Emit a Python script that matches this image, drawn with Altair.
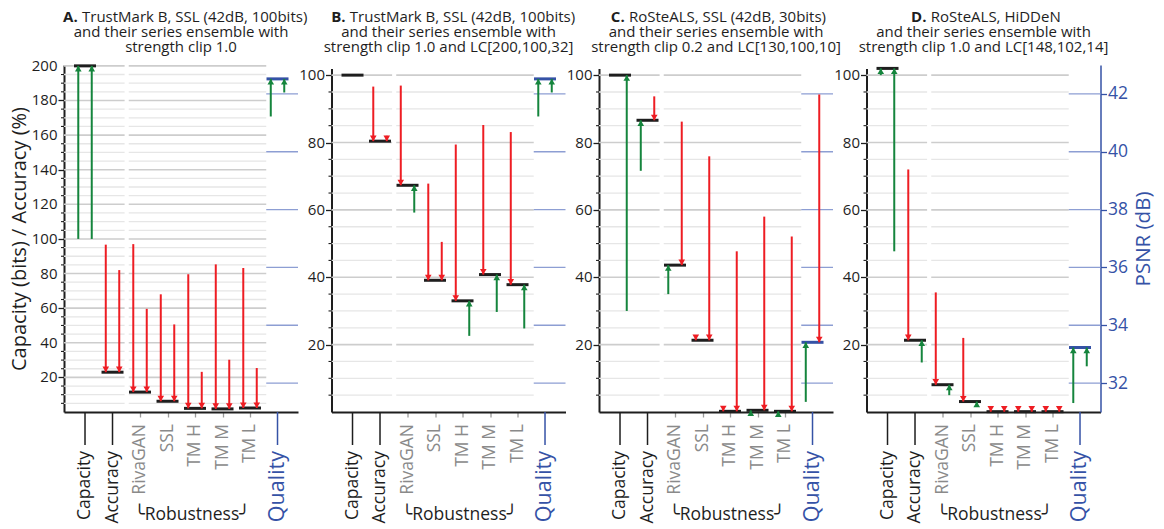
import altair as alt
import pandas as pd

# ------------------------------------------------------------------ data
CATS = ["Capacity", "Accuracy", "RivaGAN", "SSL", "TM H", "TM M", "TM L", "Quality"]

# values of model 1 (left arrow), model 2 (right arrow) and the ensemble (bar)
# last entry of every list is the PSNR (dB) of the "Quality" column
A_M1 = [100, 96.7, 97.0, 68.0, 79.6, 85.3, 83.2, 41.22]
A_M2 = [100, 82.0, 59.6, 50.6, 23.2, 30.2, 25.4, 42.05]
A_ENS = [200, 23.0, 11.5, 6.2, 2.1, 1.8, 2.3, 42.52]

B_M1 = [100, 96.6, 96.9, 67.8, 79.4, 85.2, 83.1, 41.22]
B_M2 = [100, 82.0, 59.2, 50.5, 22.6, 29.7, 24.8, 42.05]
B_ENS = [100, 80.4, 67.3, 39.1, 33.0, 40.8, 37.8, 42.52]

C_M1 = [100, 71.6, 35.0, 22.8, 1.0, 0.0, -0.6, 31.35]
C_M2 = [30.0, 93.7, 86.2, 75.9, 47.7, 58.0, 52.1, 41.98]
C_ENS = [100, 86.6, 43.6, 21.3, 0.2, 0.5, 0.2, 33.41]

D_M1 = [100, 72.0, 35.5, 22.0, 1.0, 1.0, 1.0, 31.31]
D_M2 = [47.7, 14.7, 5.0, 1.6, 1.0, 1.0, 1.0, 32.58]
D_ENS = [102, 21.3, 8.1, 3.1, 0.1, 0.1, 0.1, 33.23]

PANEL_M1 = [A_M1, B_M1, C_M1, D_M1]
PANEL_M2 = [A_M2, B_M2, C_M2, D_M2]
PANEL_ENS = [A_ENS, B_ENS, C_ENS, D_ENS]

TITLE_TAGS = ["A.", "B.", "C.", "D."]
TITLE_LINE1 = [
    "TrustMark B, SSL (42dB, 100bits)",
    "TrustMark B, SSL (42dB, 100bits)",
    "RoSteALS, SSL (42dB, 30bits)",
    "RoSteALS, HiDDeN",
]
TITLE_LINE2 = ["and their series ensemble with"] * 4
TITLE_LINE3 = [
    "strength clip 1.0",
    "strength clip 1.0 and LC[200,100,32]",
    "strength clip 0.2 and LC[130,100,10]",
    "strength clip 1.0 and LC[148,102,14]",
]

Y_MAX = [200.5, 102, 102, 102]
PSNR_DOMAIN = [31, 43]
PSNR_TICKS = [32, 34, 36, 38, 40, 42]
GRID_STEP = 5
MAJOR_STEP = 20
Y_TITLE = "Capacity (bits) / Accuracy (%)"
PSNR_TITLE = "PSNR (dB)"
ROBUST_TITLE = "╰Robustness╯"

# ------------------------------------------------------------------ style / layout
W, H = 234, 347
FONT = "Open Sans"
RED = "#ee1d23"
GREEN = "#15853d"
BLACK = "#1e1e1e"
BLUE = "#3552a6"
BLUE_GRID = "#8d9ed3"
GRAY_TXT = "#8a8a8a"
GRID_MAJOR = "#cdcdcd"
GRID_MINOR = "#e6e6e6"

X_DOMAIN = [-0.764, 7.745]
BAR_HALF = 0.4
ARROW_OFF = 0.245
SEG1_END = 1.44
SEG2_START = 1.59
SEG2_END = 6.59
Y_TOP_GAP = [0, 3.4, 3.4, 3.4]
TAG_RIGHT = [13.7, 14.0, 25.7, 60.0]
TITLE_Y = [-43, -28, -13.5]
PATH_DOWN = "M-1,-1.7L1,-1.7L0,0Z"
PATH_UP = "M-1,1.7L1,1.7L0,0Z"

QI = len(CATS) - 1  # index of the Quality column


def panel(p):
    m1, m2, ens = PANEL_M1[p], PANEL_M2[p], PANEL_ENS[p]
    ymax = Y_MAX[p]
    xsc = alt.Scale(domain=X_DOMAIN, nice=False, zero=False)
    ysc = alt.Scale(domain=[0, ymax], range=[H, Y_TOP_GAP[p]], nice=False, zero=False)
    qsc = alt.Scale(domain=PSNR_DOMAIN, range=[H, 0], nice=False, zero=False)
    dir_color = alt.Color("dir:N", scale=alt.Scale(domain=["down", "up"], range=[RED, GREEN]), legend=None)
    dir_shape = alt.Shape("dir:N", scale=alt.Scale(domain=["down", "up"], range=[PATH_DOWN, PATH_UP]), legend=None)

    # --- tables
    bars = pd.DataFrame({"i": list(range(len(CATS))), "e": ens})
    bars["xs"] = bars["i"] - BAR_HALF
    bars["xe"] = bars["i"] + BAR_HALF

    rows = []
    for i in range(len(CATS)):
        for side, v in ((-1, m1[i]), (1, m2[i])):
            if abs(v - ens[i]) < 0.05:
                continue
            rows.append({"i": i, "x": i + side * ARROW_OFF, "v": v, "e": ens[i],
                         "dir": "down" if v > ens[i] else "up"})
    arr = pd.DataFrame(rows)

    grid = []
    g = GRID_STEP
    while g <= ymax:
        for xs, xe in ((X_DOMAIN[0], SEG1_END), (SEG2_START, SEG2_END)):
            grid.append({"g": g, "xs": xs, "xe": xe, "major": g % MAJOR_STEP == 0})
        g += GRID_STEP
    grid = pd.DataFrame(grid)
    minor_ticks = pd.DataFrame({"g": [v for v in range(GRID_STEP, int(ymax) + 1, GRID_STEP)
                                      if v % MAJOR_STEP != 0]})
    major_vals = list(range(MAJOR_STEP, int(ymax) + 1, MAJOR_STEP))
    ylabels = pd.DataFrame({"g": major_vals, "t": [str(v) for v in major_vals]})

    qgrid = pd.DataFrame({"g": PSNR_TICKS, "xs": SEG2_END, "xe": X_DOMAIN[1]})
    labels = pd.DataFrame({"i": list(range(len(CATS))), "lab": CATS})

    yaxis = alt.Axis(
        values=major_vals, labels=False,
        tickSize=6, tickColor=BLACK, tickWidth=1.3, domainColor=BLACK, domainWidth=2,
        grid=False,
        titleFont=FONT, titleFontSize=20, titleFontWeight="normal", titleColor=BLACK,
        titlePadding=28,
    )
    xaxis = alt.Axis(values=[2, 3, 4, 5, 6], labels=False, tickSize=5, tickColor="#9a9a9a",
                     tickWidth=1.3, domainColor=BLACK, domainWidth=2, grid=False)

    XS = alt.X("xs:Q", scale=xsc)
    XP = alt.X("x:Q", scale=xsc)
    XI = alt.X("i:Q", scale=xsc)
    XC = alt.X("c:Q", scale=xsc)

    # --- main layers (first layer carries the axes, the others leave them unspecified)
    grid_minor = alt.Chart(grid[~grid["major"]]).mark_rule(color=GRID_MINOR, strokeWidth=1.3).encode(
        x=alt.X("xs:Q", scale=xsc, axis=xaxis, title=None), x2="xe:Q",
        y=alt.Y("g:Q", scale=ysc, axis=yaxis, title=Y_TITLE if p == 0 else None))
    grid_major = alt.Chart(grid[grid["major"]]).mark_rule(color=GRID_MAJOR, strokeWidth=1.6).encode(
        x=XS, x2="xe:Q", y=alt.Y("g:Q", scale=ysc))
    mticks = alt.Chart(minor_ticks).mark_rule(color=BLACK, strokeWidth=1.1).encode(
        x=alt.value(-3), x2=alt.value(0), y=alt.Y("g:Q", scale=ysc))
    ylab = alt.Chart(ylabels).mark_text(align="right", baseline="middle", font=FONT, fontSize=15,
                                        color=BLACK).encode(
        x=alt.value(-6.5), y=alt.Y("g:Q", scale=ysc), text="t:N")
    bar_main = alt.Chart(bars[bars["i"] < QI]).mark_rule(color=BLACK, strokeWidth=3).encode(
        x=XS, x2="xe:Q", y=alt.Y("e:Q", scale=ysc))
    arr_main = arr[arr["i"] < QI]
    shaft_main = alt.Chart(arr_main).mark_rule(strokeWidth=2).encode(
        x=XP, y=alt.Y("v:Q", scale=ysc), y2="e:Q", color=dir_color)
    head_main = alt.Chart(arr_main).mark_point(filled=True, size=44, opacity=1, strokeWidth=0).encode(
        x=XP, y=alt.Y("e:Q", scale=ysc), color=dir_color, shape=dir_shape)

    long_ticks_k = alt.Chart(labels[labels["i"] < 2]).mark_rule(color=BLACK, strokeWidth=1.5).encode(
        x=XI, y=alt.value(H), y2=alt.value(H + 33))
    long_ticks_q = alt.Chart(labels[labels["i"] == QI]).mark_rule(color=BLUE, strokeWidth=1.5).encode(
        x=XI, y=alt.value(H), y2=alt.value(H + 33))
    lab_k = alt.Chart(labels[labels["i"] < 2]).mark_text(
        angle=270, align="right", baseline="middle", font=FONT, fontSize=17.5, color=BLACK).encode(
        x=XI, y=alt.value(H + 39), text="lab:N")
    lab_r = alt.Chart(labels[(labels["i"] >= 2) & (labels["i"] < QI)]).mark_text(
        angle=270, align="right", baseline="middle", font=FONT, fontSize=17.5, color=GRAY_TXT).encode(
        x=XI, y=alt.value(H + 12), text="lab:N")
    lab_q = alt.Chart(labels[labels["i"] == QI]).mark_text(
        angle=270, align="right", baseline="middle", font=FONT, fontSize=21.5, color=BLUE).encode(
        x=XI, y=alt.value(H + 39), text="lab:N")
    rob = labels[(labels["i"] >= 2) & (labels["i"] < QI)]
    rob_df = pd.DataFrame({"c": [rob["i"].mean()], "t": [ROBUST_TITLE]})
    rob_t = alt.Chart(rob_df).mark_text(font=FONT + ", DejaVu Sans", fontSize=17.5, color=BLACK,
                                        baseline="alphabetic", dx=-3).encode(
        x=XC, y=alt.value(H + 108), text="t:N")

    tdf = pd.DataFrame({"tag": [TITLE_TAGS[p]], "l1": [TITLE_LINE1[p]],
                        "l2": [TITLE_LINE2[p]], "l3": [TITLE_LINE3[p]]})
    tbase = alt.Chart(tdf)
    t_tag = tbase.mark_text(font=FONT, fontSize=15, fontWeight="bold", color=BLACK, align="right",
                            baseline="alphabetic").encode(
        x=alt.value(TAG_RIGHT[p]), y=alt.value(TITLE_Y[0]), text="tag:N")
    t_l1 = tbase.mark_text(font=FONT, fontSize=15, color=BLACK, align="left",
                           baseline="alphabetic").encode(
        x=alt.value(TAG_RIGHT[p] + 4.3), y=alt.value(TITLE_Y[0]), text="l1:N")
    t_l2 = tbase.mark_text(font=FONT, fontSize=15, color=BLACK, align="center",
                           baseline="alphabetic").encode(
        x=alt.value(W / 2), y=alt.value(TITLE_Y[1]), text="l2:N")
    t_l3 = tbase.mark_text(font=FONT, fontSize=15, color=BLACK, align="center",
                           baseline="alphabetic").encode(
        x=alt.value(W / 2), y=alt.value(TITLE_Y[2]), text="l3:N")

    main = alt.layer(grid_minor, grid_major, mticks, ylab, bar_main, shaft_main, head_main,
                     long_ticks_k, long_ticks_q, lab_k, lab_r, lab_q, rob_t,
                     t_tag, t_l1, t_l2, t_l3)

    # --- quality layers (PSNR scale)
    arr_q = arr[arr["i"] == QI]
    if p == 3:
        qaxis = alt.Axis(orient="right", values=PSNR_TICKS, tickSize=6, tickColor=BLUE, tickWidth=1.3,
                         domainColor=BLUE, domainWidth=1.5, labelFont=FONT, labelFontSize=17.5,
                         labelColor=BLUE, labelPadding=1, grid=False, labelOverlap=False,
                         titleFont=FONT, titleFontSize=20.5, titleFontWeight="normal", titleColor=BLUE,
                         titleAngle=270, titleBaseline="top", titlePadding=6)
        yq_first = alt.Y("g:Q", scale=qsc, axis=qaxis, title=PSNR_TITLE)
        yq_bar = alt.Y("e:Q", scale=qsc)
        yq_shaft = alt.Y("v:Q", scale=qsc)
        yq_head = alt.Y("e:Q", scale=qsc)
    else:
        yq_first = alt.Y("g:Q", scale=qsc, axis=None)
        yq_bar = alt.Y("e:Q", scale=qsc, axis=None)
        yq_shaft = alt.Y("v:Q", scale=qsc, axis=None)
        yq_head = alt.Y("e:Q", scale=qsc, axis=None)
    q_grid = alt.Chart(qgrid).mark_rule(color=BLUE_GRID, strokeWidth=1.3).encode(
        x=XS, x2="xe:Q", y=yq_first)
    q_bar = alt.Chart(bars[bars["i"] == QI]).mark_rule(color=BLUE, strokeWidth=3).encode(
        x=XS, x2="xe:Q", y=yq_bar)
    q_shaft = alt.Chart(arr_q).mark_rule(strokeWidth=2).encode(
        x=XP, y=yq_shaft, y2="e:Q", color=dir_color)
    q_head = alt.Chart(arr_q).mark_point(filled=True, size=44, opacity=1, strokeWidth=0).encode(
        x=XP, y=yq_head, color=dir_color, shape=dir_shape)
    qual = alt.layer(q_grid, q_bar, q_shaft, q_head)

    return alt.layer(main, qual).resolve_scale(y="independent", color="independent",
                                               shape="independent").properties(width=W, height=H)


chart = alt.hconcat(*[panel(p) for p in range(4)], spacing=33.5, bounds="flush").properties(
    padding={"left": 1, "top": 2, "right": 0, "bottom": 0}
).configure_view(stroke=None)

chart.save("out.html", embed_options={"renderer": "svg", "actions": False})
